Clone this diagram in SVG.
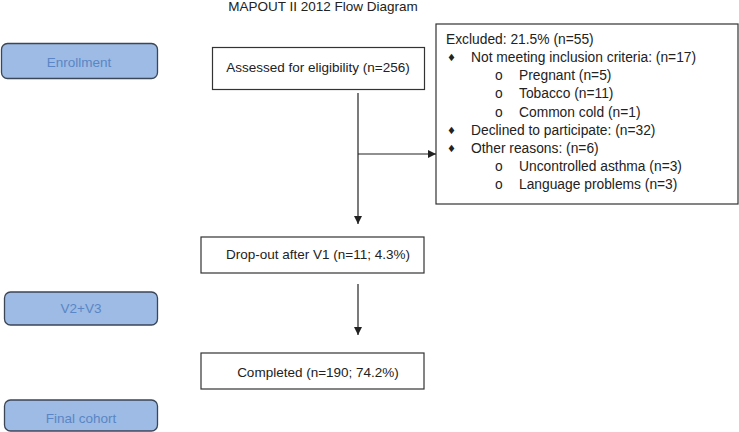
<svg xmlns="http://www.w3.org/2000/svg" width="739" height="432" viewBox="0 0 739 432">
<style>
text{font-family:"Liberation Sans",Arial,sans-serif;font-size:13.5px;fill:#222}
.stage rect{fill:#9dbbe4;stroke:#3b4657;stroke-width:1.3}
.stage text{fill:#5a86c5;text-anchor:middle}
.box rect{fill:#fff;stroke:#333;stroke-width:1.2}
#excluded text{font-size:13.8px}
.ctr{text-anchor:middle}
.conn line{stroke:#222;stroke-width:1.2;fill:none}
#excluded .bul{font-family:"DejaVu Sans",sans-serif;font-size:10px}
</style>
<defs>
<marker id="ah" viewBox="0 0 10 10" refX="10" refY="5" markerWidth="8" markerHeight="8" markerUnits="userSpaceOnUse" orient="auto">
<path d="M0,0 L10,5 L0,10 z" fill="#222"/>
</marker>
</defs>
<text id="title" x="323" y="11" class="ctr">MAPOUT II 2012 Flow Diagram</text>
<g id="enrollment" class="stage"><rect x="1.5" y="43.5" width="156" height="35" rx="6"/><text x="79" y="67">Enrollment</text></g>
<g id="v2v3" class="stage"><rect x="4.5" y="292" width="153" height="33" rx="6"/><text x="81" y="313">V2+V3</text></g>
<g id="final" class="stage"><rect x="4.5" y="400" width="153" height="31" rx="6"/><text x="81" y="423">Final cohort</text></g>
<g id="assessed" class="box"><rect x="212.5" y="47.5" width="212" height="42"/><text x="318" y="72" class="ctr">Assessed for eligibility (n=256)</text></g>
<g id="excluded" class="box"><rect x="436" y="24" width="302" height="180"/>
<text x="446" y="44">Excluded: 21.5% (n=55)</text>
<text x="447" y="61" class="bul">♦</text><text x="471" y="62">Not meeting inclusion criteria: (n=17)</text>
<text x="495" y="80">o</text><text x="519" y="80">Pregnant (n=5)</text>
<text x="495" y="98">o</text><text x="519" y="98">Tobacco (n=11)</text>
<text x="495" y="117">o</text><text x="519" y="117">Common cold (n=1)</text>
<text x="447" y="134" class="bul">♦</text><text x="471" y="135">Declined to participate: (n=32)</text>
<text x="447" y="152" class="bul">♦</text><text x="471" y="153">Other reasons: (n=6)</text>
<text x="495" y="171">o</text><text x="519" y="171">Uncontrolled asthma (n=3)</text>
<text x="495" y="189">o</text><text x="519" y="189">Language problems (n=3)</text>
</g>
<g id="dropout" class="box"><rect x="201" y="237" width="223" height="36"/><text x="318" y="259" class="ctr">Drop-out after V1 (n=11; 4.3%)</text></g>
<g id="completed" class="box"><rect x="201" y="353" width="223" height="36"/><text x="318" y="377" class="ctr">Completed (n=190; 74.2%)</text></g>
<g id="connectors" class="conn">
<line x1="358" y1="93" x2="358" y2="224" marker-end="url(#ah)"/>
<line x1="358" y1="154" x2="436" y2="154" marker-end="url(#ah)"/>
<line x1="358" y1="284" x2="358" y2="335" marker-end="url(#ah)"/>
</g>
</svg>
